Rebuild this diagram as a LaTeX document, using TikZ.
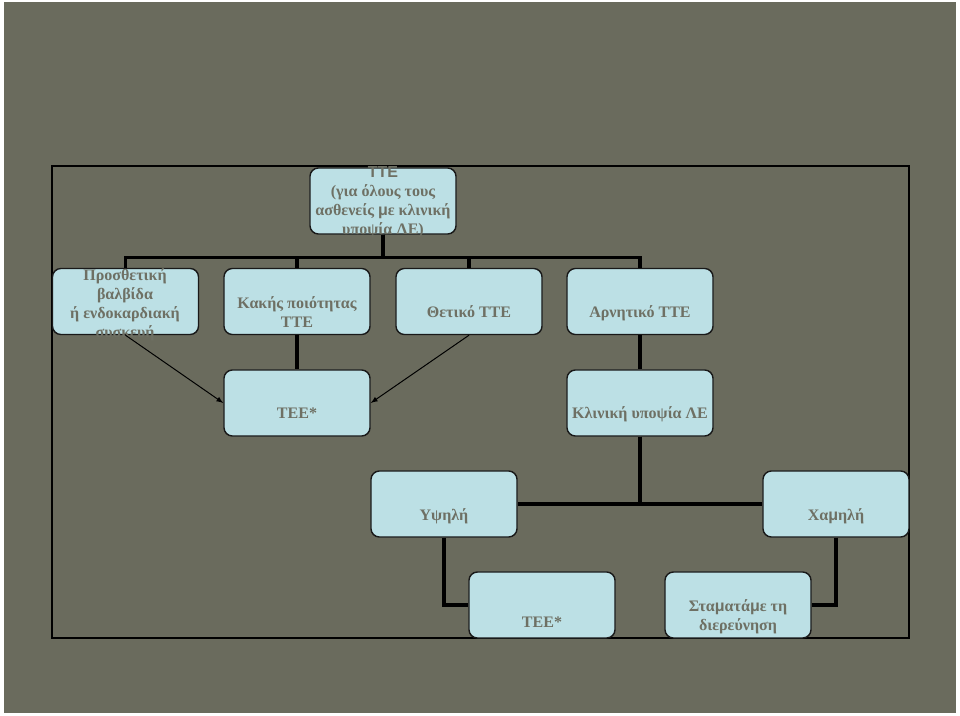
\documentclass[tikz,border=0pt]{standalone}
\usepackage{fontspec}
\setmainfont{Liberation Serif}
\newfontfamily\musans{Liberation Sans}
\usepackage{tikz}
\usetikzlibrary{arrows}
\definecolor{hgrund}{RGB}{106,107,93}
\definecolor{kasten}{RGB}{188,224,229}
\definecolor{schrift}{RGB}{110,112,100}
\newcommand{\smu}{{\musans μ}}

\begin{document}
\begin{tikzpicture}[x=0.025cm, y=-0.025cm,
				>=latex,   %Pfeilspitzen
				box/.style={draw=black!90, line width=1pt, fill=kasten, rounded corners=6pt, minimum width=3.65cm, minimum height=1.65cm, inner sep=0pt},
				txt/.style={text=schrift, font=\fontsize{11.4}{13.5}\selectfont\bfseries, align=center, anchor=base, inner sep=0pt},
				conn/.style={line width=2.2pt, black},
				arr/.style={->, line width=0.7pt, black}]
				%Hintergrund und Rahmen
				\fill[white] (0,0) rectangle (960,716);
				\fill[hgrund] (4,2) rectangle (956,713);
				\draw[line width=0.8pt, black] (52,166) rectangle (909,638);
				%Kaesten
				\node[box] (tte) at (383,201) {};
				\node[box] (pros) at (125.5,301.5) {};
				\node[box] (kak) at (297,301.5) {};
				\node[box] (pos) at (469,301.5) {};
				\node[box] (arn) at (640,301.5) {};
				\node[box] (tee1) at (297,403) {};
				\node[box] (klin) at (640,403) {};
				\node[box] (ypsili) at (444,504) {};
				\node[box] (xamili) at (836,504) {};
				\node[box] (tee2) at (542,605) {};
				\node[box] (stop) at (738,605) {};
				%Beschriftung (Grundlinie der letzten Zeile)
				\node[txt] (tte-t) at (383,234) {{\musans ΤΤΕ}\\(για όλους τους\\ασθενείς \smu ε κλινική\\υποψία ΛΕ)};
				\node[txt] (pros-t) at (125,337) {Προσθετική\\βαλβίδα\\ή ενδοκαρδιακή\\συσκευή};
				\node[txt] (kak-t) at (297,327) {Κακής ποιότητας\\ΤΤΕ};
				\node[txt] (pos-t) at (469,317) {Θετικό ΤΤΕ};
				\node[txt] (arn-t) at (640,317) {Αρνητικό ΤΤΕ};
				\node[txt] (tee1-t) at (297,418) {ΤΕΕ*};
				\node[txt] (klin-t) at (640,418) {Κλινική υποψία ΛΕ};
				\node[txt] (ypsili-t) at (444,520) {Υψηλή};
				\node[txt] (xamili-t) at (836,520) {Χα\smu ηλή};
				\node[txt] (tee2-t) at (542,627) {ΤΕΕ*};
				\node[txt] (stop-t) at (738,630) {Στα\smu ατά\smu ε τη\\διερεύνηση};
				%Verbindungen
				\foreach \k in {pros,kak,pos,arn} \draw[conn] (tte.south) -- ++(0,23) -| (\k.north);
				\draw[conn] (kak.south) -- (tee1.north);
				\draw[conn] (arn.south) -- (klin.north);
				\draw[arr] (pros.south) -- (tee1.west);
				\draw[arr] (pos.south) -- (tee1.east);
				\draw[conn] (klin.south) |- (ypsili.east);
				\draw[conn] (klin.south) |- (xamili.west);
				\draw[conn] (ypsili.south) |- (tee2.west);
				\draw[conn] (xamili.south) |- (stop.east);
			\end{tikzpicture}
\end{document}
